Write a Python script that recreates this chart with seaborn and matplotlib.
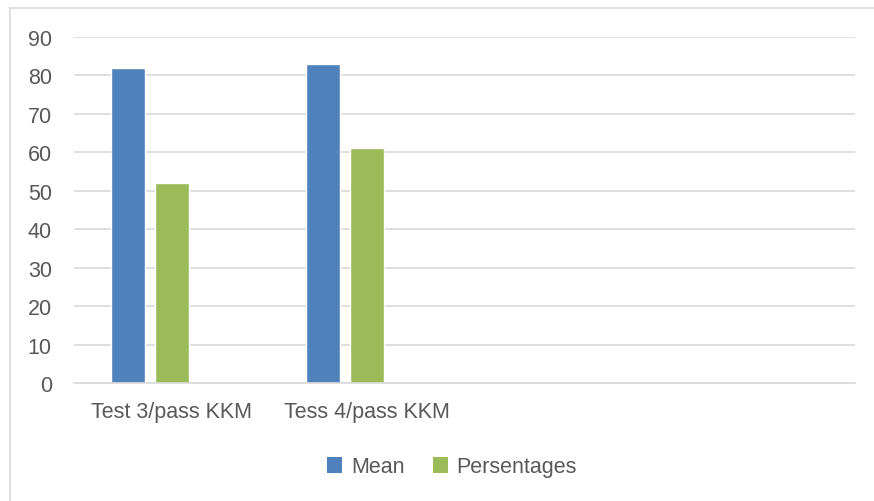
import matplotlib
matplotlib.use("Agg")
import matplotlib.pyplot as plt
from matplotlib.patches import Rectangle, Patch
import numpy as np
import pandas as pd
import seaborn as sns

# ---------------------------------------------------------------------------
# Data
# ---------------------------------------------------------------------------
categories = ["Test 3/pass KKM", "Tess 4/pass KKM"]
slots = categories + ["slot 3", "slot 4"]          # empty category slots
slot_labels = categories + ["", ""]
series = ["Mean", "Persentages", "Series 3"]       # third series is empty
mean_vals = [82, 83]
pers_vals = [52, 61]
empty_vals = [np.nan, np.nan]
y_ticks = [0, 10, 20, 30, 40, 50, 60, 70, 80, 90]

COLORS = ["#4F81BD", "#9BBB59", "#C0504D"]
TEXT = "#595959"
GRID = "#D9D9D9"

df = pd.DataFrame({
    "cat": categories * 3,
    "series": [series[0]] * 2 + [series[1]] * 2 + [series[2]] * 2,
    "value": mean_vals + pers_vals + empty_vals,
})

# ---------------------------------------------------------------------------
# Plot
# ---------------------------------------------------------------------------
sns.set_theme(style="white")
plt.rcParams["font.family"] = ["Liberation Sans", "DejaVu Sans"]
FS = 15.5

fig = plt.figure(figsize=(8.74, 5.02), dpi=100)
ax = fig.add_axes([74 / 874, 1 - 384 / 502, (855 - 74) / 874, (384 - 38) / 502])

sns.barplot(
    data=df, x="cat", y="value", hue="series",
    order=slots, hue_order=series, palette=COLORS,
    width=0.677, gap=0.227, saturation=1, ax=ax, legend=False,
)

ax.set_ylim(0, 90)
ax.set_xlim(-0.5, len(slots) - 0.5)
ax.set_yticks(y_ticks)
ax.set_xticks(range(len(slots)))
ax.set_xticklabels(slot_labels)
ax.yaxis.grid(True, color=GRID, linewidth=1.2)
ax.set_axisbelow(True)
ax.set_xlabel("")
ax.set_ylabel("")
ax.tick_params(axis="both", length=0, colors=TEXT, labelsize=FS)
ax.tick_params(axis="x", pad=13)
ax.tick_params(axis="y", pad=16)
for side in ["top", "right", "left"]:
    ax.spines[side].set_visible(False)
ax.spines["bottom"].set_color(GRID)
ax.spines["bottom"].set_linewidth(1.2)

# chart-area border (light gray frame, cut off on right/bottom)
fig.patches.append(Rectangle(
    (10 / 874, -0.1), 1.2, 1 - 9 / 502 + 0.1,
    transform=fig.transFigure, fill=False, edgecolor="#D9D9D9", linewidth=1.2,
))

handles = [Patch(facecolor=COLORS[i], edgecolor="none") for i in range(2)]
fig.legend(
    handles, series[:2], loc="center", bbox_to_anchor=(452 / 874, 1 - 468 / 502),
    ncol=2, frameon=False, fontsize=FS, labelcolor=TEXT,
    handlelength=0.7, handleheight=0.7, handletextpad=0.4, columnspacing=1.3,
)

fig.savefig("out.png", dpi=100, facecolor="white")
plt.close(fig)
